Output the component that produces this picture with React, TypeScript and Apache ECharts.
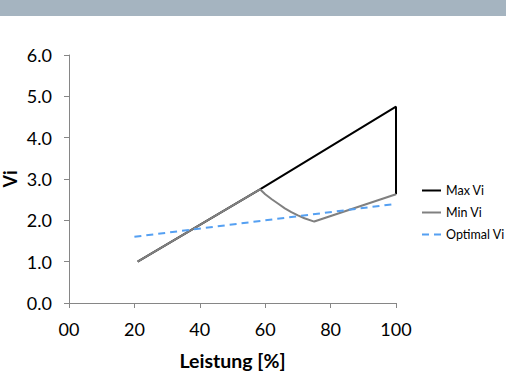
import React, { useEffect, useRef } from "react";
import * as echarts from "echarts";

const maxX = [21, 58.4, 100, 100];
const maxY = [1.0, 2.75, 4.75, 2.63];
const minX = [21, 58.4, 60, 62, 64, 66, 68, 70, 72, 75, 100];
const minY = [1.0, 2.75, 2.63, 2.51, 2.4, 2.29, 2.2, 2.12, 2.05, 1.97, 2.63];
const optX = [20, 100];
const optY = [1.6, 2.4];
const seriesNames = ["Max Vi", "Min Vi", "Optimal Vi"];
const yAxisName = "Vi";

const FONT = "Lato, 'Open Sans', sans-serif";

export default function App() {
  const ref = useRef<HTMLDivElement>(null);
  useEffect(() => {
    if (!ref.current) return;
    const chart = echarts.init(ref.current, null, { renderer: "svg" });
    const zip = (xs: number[], ys: number[]) => xs.map((x, i) => [x, ys[i]]);
    chart.setOption({
      animation: false,
      backgroundColor: "#ffffff",
      textStyle: { fontFamily: FONT },
      graphic: [
        {
          type: "rect",
          left: 0,
          top: 0,
          shape: { width: 506, height: 16 },
          style: { fill: "#a5b4c0" },
          z: 10,
        },
        {
          type: "text",
          x: 10,
          y: 179,
          rotation: Math.PI / 2,
          style: {
            text: yAxisName,
            fontSize: 18,
            fontWeight: "bold",
            fontFamily: FONT,
            fill: "#000",
            align: "center",
            verticalAlign: "middle",
          },
          z: 10,
        },
      ],
      grid: {
        left: 69,
        right: 110,
        top: 55,
        bottom: 68,
        containLabel: false,
        outerBoundsMode: "none",
      },
      legend: {
        orient: "vertical",
        left: 416,
        top: 179,
        itemWidth: 19,
        itemHeight: 10,
        itemGap: 9,
        data: seriesNames,
        itemStyle: { opacity: 0 },
        textStyle: { fontSize: 12.5, color: "#000", fontFamily: FONT },
      },
      xAxis: {
        type: "value",
        min: 0,
        max: 100,
        interval: 20,
        name: "Leistung [%]",
        nameLocation: "middle",
        nameGap: 47,
        nameTextStyle: { fontSize: 19.5, fontWeight: "bold", color: "#000", fontFamily: FONT },
        axisLine: { show: true, lineStyle: { color: "#868686", width: 1 } },
        axisTick: { show: true, length: 5, lineStyle: { color: "#868686" } },
        axisLabel: {
          fontSize: 18,
          color: "#000",
          margin: 17,
          formatter: (v: number) => (v === 0 ? "00" : String(v)),
        },
        splitLine: { show: false },
      },
      yAxis: {
        type: "value",
        min: 0,
        max: 6,
        interval: 1,
        axisLine: { show: true, lineStyle: { color: "#868686", width: 1 } },
        axisTick: { show: true, length: 5, lineStyle: { color: "#868686" } },
        axisLabel: {
          fontSize: 18,
          color: "#000",
          margin: 17,
          formatter: (v: number) => v.toFixed(1),
        },
        splitLine: { show: false },
      },
      series: [
        {
          name: seriesNames[0],
          type: "line",
          data: zip(maxX, maxY),
          symbol: "none",
          lineStyle: { color: "#000000", width: 2 },
          itemStyle: { color: "#000000" },
          z: 2,
        },
        {
          name: seriesNames[1],
          type: "line",
          data: zip(minX, minY),
          symbol: "none",
          lineStyle: { color: "#808080", width: 2 },
          itemStyle: { color: "#808080" },
          z: 3,
        },
        {
          name: seriesNames[2],
          type: "line",
          data: zip(optX, optY),
          symbol: "none",
          lineStyle: { color: "#55a0f2", width: 2, type: [7, 5] },
          itemStyle: { color: "#55a0f2" },
          z: 4,
        },
      ],
    });
    return () => chart.dispose();
  }, []);
  return (
    <div
      ref={ref}
      style={{ position: "fixed", left: 0, top: 0, width: 506, height: 371 }}
    />
  );
}
